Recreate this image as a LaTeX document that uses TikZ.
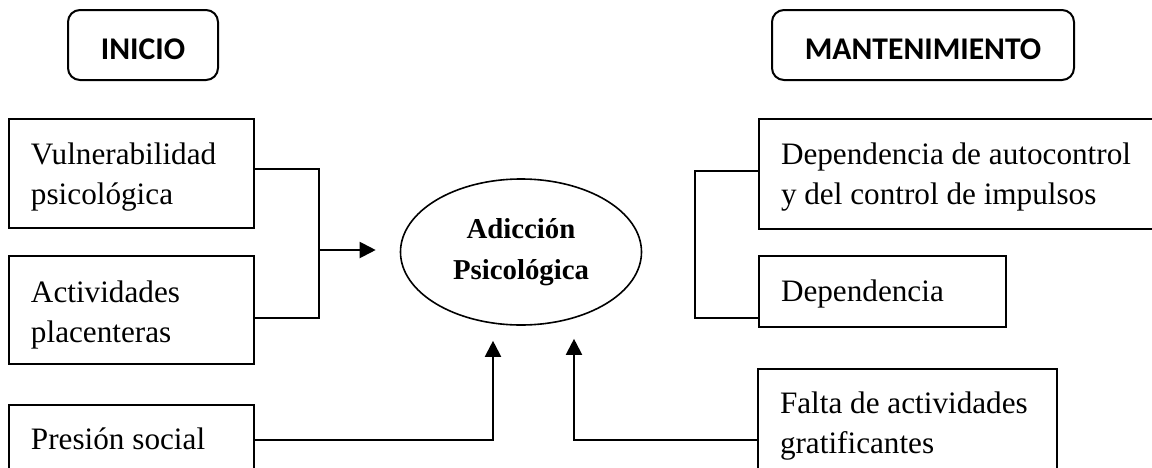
\documentclass[tikz,border=0pt]{standalone}
\usepackage{fontspec}
\setmainfont{Liberation Serif}
\newfontfamily\hdrfont{Carlito}
\usetikzlibrary{arrows.meta,shapes.geometric,calc}
\newcommand\bxt[4]{\parbox[c][#1][t]{#2}{\leftskip=11pt\rightskip=0pt plus 1fil\parindent=0pt\fontsize{15.6}{20}\selectfont\rule{0pt}{#3}#4}}
\tikzset{
  hdr/.style={draw, line width=1pt, rounded corners=6pt, minimum width=#1, minimum height=35pt,
    inner sep=0pt, font=\hdrfont\bfseries\fontsize{15.8}{18}\selectfont, text height=14pt, text depth=0pt},
  factor/.style={draw, line width=1pt, inner sep=0pt, anchor=north west},
  conn/.style={line width=1pt},
  arr/.style={line width=1pt, -{Triangle[length=8pt,width=8pt]}},
  core/.style={draw, ellipse, line width=0.8pt, minimum width=120.5pt, minimum height=73pt, inner sep=0pt,
    align=center, font=\bfseries\fontsize{14.4}{20.5}\selectfont}
}
\begin{document}
\begin{tikzpicture}[x=0.5pt,y=-0.5pt]
\useasboundingbox (0,0) rectangle (1152,467);
\clip (0,0) rectangle (1152,467);
\fill[white] (0,0) rectangle (1152,467);
% headers
\node[hdr=75pt] (inicio) at (143,45) {INICIO};
\node[hdr=151pt] (mant) at (923,45) {MANTENIMIENTO};
% left factors
\node[factor] (vul) at (8,118) {\bxt{54.5pt}{122.5pt}{22.5pt}{Vulnerabilidad\\psicológica}};
\node[factor] (act) at (8,255) {\bxt{54pt}{122.5pt}{23pt}{Actividades\\placenteras}};
\node[factor] (pre) at (8,404) {\bxt{45pt}{122.5pt}{22pt}{Presión social}};
% right factors
\node[factor] (dep1) at (758,118) {\bxt{55pt}{205pt}{22.5pt}{Dependencia de autocontrol\\y del control de impulsos}};
\node[factor] (dep2) at (758,255) {\bxt{35.5pt}{123.5pt}{22.5pt}{Dependencia}};
\node[factor] (fal) at (757,368) {\bxt{60pt}{149.5pt}{22pt}{Falta de actividades\\gratificantes}};
% core
\node[core] (add) at (521,252) {Adicción\\Psicológica};
% left bracket
\coordinate (lt) at (319,169);
\coordinate (lb) at (319,318);
\coordinate (lm) at (319,250);
\draw[conn] (vul.east |- lt) -- (lt) -- (lb) -- (act.east |- lb);
\draw[arr] (lm) -- ([xshift=-12pt]add.west |- lm);
% right bracket
\coordinate (rt) at (695,171);
\coordinate (rb) at (695,318);
\draw[conn] (dep1.west |- rt) -- (rt) -- (rb) -- (dep2.west |- rb);
% bottom arrows
\coordinate (pj) at (493,440);
\coordinate (fj) at (574,440);
\draw[arr, shorten >=7.5pt] (pre.east |- pj) -- (pj) -- (pj |- add.south);
\draw[arr, shorten >=6.5pt] (fal.west |- fj) -- (fj) -- (fj |- add.south);
\end{tikzpicture}
\end{document}
